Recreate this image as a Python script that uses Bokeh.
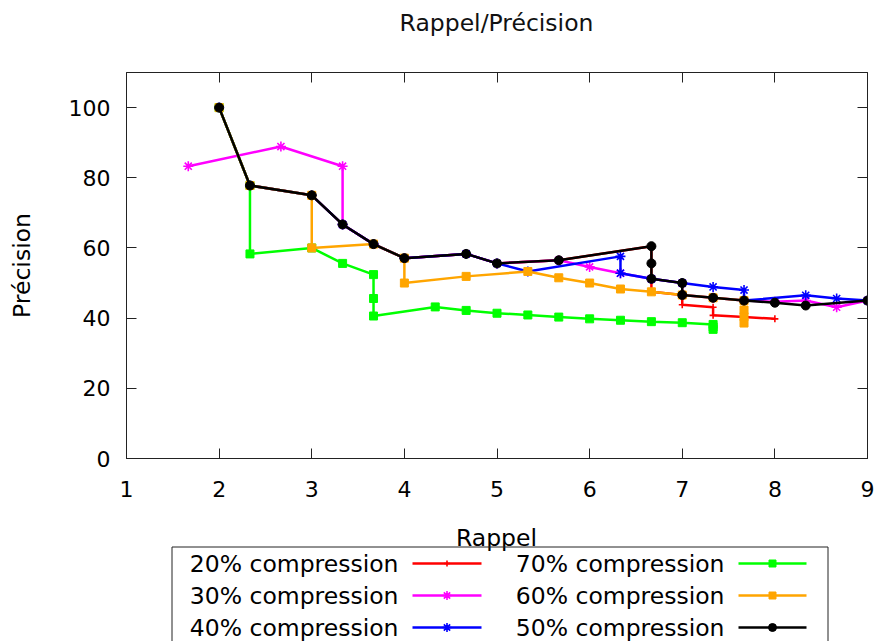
from bokeh.plotting import figure
from bokeh.layouts import column
from bokeh.models import LinearAxis, Range1d, FixedTicker
from bokeh.embed import file_html
from bokeh.resources import INLINE
from bokeh.core.properties import value

FONT = "DejaVu Sans"
TEXT_SIZE = "23.5px"
TICK_SIZE = "22px"

# Recall (Rappel) / precision (Précision) curves per compression rate
rappel_20 = [2, 2.333, 3, 3.333, 3.667, 4, 4.667, 5, 5.667, 6.667, 6.667, 6.667, 6.667, 7, 7, 7.333, 7.333, 7.667, 8]
precision_20 = [100, 77.8, 75, 66.7, 61.1, 57.1, 58.3, 55.6, 56.5, 60.5, 55.6, 51.2, 47.5, 46.6, 43.8, 43.1, 40.8, 40.3, 39.8]

rappel_30 = [1.667, 2.667, 3.333, 3.333, 3.667, 4, 4.667, 5, 5.667, 6, 6.333, 6.667, 7, 7, 7.333, 7.667, 8, 8.333, 8.667, 9]
precision_30 = [83.3, 88.9, 83.3, 66.7, 61.1, 57.1, 58.3, 55.6, 56.5, 54.6, 52.8, 51.2, 50, 46.6, 45.8, 45, 44.7, 45.0, 43.1, 45]

rappel_40 = [2, 2.333, 3, 3.333, 3.667, 4, 4.667, 5, 5.333, 6.333, 6.333, 6.667, 7, 7.333, 7.667, 7.667, 8.333, 8.667, 9]
precision_40 = [100, 77.8, 75, 66.7, 61.1, 57.1, 58.3, 55.6, 53.3, 57.6, 52.8, 51.2, 50, 48.9, 48, 45, 46.5, 45.6, 45]

rappel_70 = [2, 2.333, 2.333, 3, 3.333, 3.667, 3.667, 3.667, 4.333, 4.667, 5, 5.333, 5.667, 6, 6.333, 6.667, 7, 7.333, 7.333, 7.333]
precision_70 = [100, 77.8, 58.3, 60, 55.6, 52.4, 45.6, 40.6, 43.2, 42.2, 41.4, 40.9, 40.3, 39.8, 39.4, 39.0, 38.7, 38.2, 37.5, 36.8]

rappel_60 = [2, 2.333, 3, 3, 3.667, 4, 4, 4.667, 5.333, 5.667, 6, 6.333, 6.667, 7, 7.333, 7.667, 7.667, 7.667, 7.667]
precision_60 = [100, 77.8, 75, 60, 61.1, 57.1, 50, 51.9, 53.3, 51.5, 50, 48.3, 47.5, 46.6, 45.8, 45, 42.3, 40.4, 38.6]

rappel_50 = [2, 2.333, 3, 3.333, 3.667, 4, 4.667, 5, 5.667, 6.667, 6.667, 6.667, 7, 7, 7.333, 7.667, 8, 8.333, 9]
precision_50 = [100, 77.8, 75, 66.7, 61.1, 57.1, 58.3, 55.6, 56.5, 60.5, 55.6, 51.2, 50, 46.6, 45.8, 45, 44.4, 43.6, 45]

x_ticks = [1, 2, 3, 4, 5, 6, 7, 8, 9]
y_ticks = [0, 20, 40, 60, 80, 100]

# name, x, y, colour, marker, marker size  (drawing order: last on top)
series = [
    ("20% compression", rappel_20, precision_20, "#ff0000", "cross", 7),
    ("30% compression", rappel_30, precision_30, "#ff00ff", "asterisk", 10),
    ("40% compression", rappel_40, precision_40, "#0000ff", "asterisk", 10),
    ("70% compression", rappel_70, precision_70, "#00ff00", "square", 8),
    ("60% compression", rappel_60, precision_60, "#ffa500", "square", 8),
    ("50% compression", rappel_50, precision_50, "#000000", "circle", 9),
]


def strip(height, y_top, y_bottom):
    """A bare figure whose ranges are page pixels, aligned with the chart frame."""
    s = figure(width=879, height=height, x_range=Range1d(126, 867), y_range=Range1d(y_bottom, y_top),
               output_backend="svg", toolbar_location=None,
               min_border_left=126, min_border_right=12, min_border_top=0, min_border_bottom=0,
               x_axis_type=None, y_axis_type=None)
    s.xgrid.visible = False
    s.ygrid.visible = False
    s.outline_line_color = None
    s.background_fill_color = "white"
    s.border_fill_color = "white"
    return s


def draw_markers(fig, xs, ys, color, marker, size):
    if marker in ("cross", "asterisk"):
        fig.scatter(xs, ys, marker=marker, size=size, line_color=color, line_width=1.6)
    else:
        fig.scatter(xs, ys, marker=marker, size=size, fill_color=color, line_color=color)


# Title strip
head = strip(44, 0, 44)
head.text(x=[496], y=[22], text=["Rappel/Précision"], text_font=value(FONT), text_font_size=TEXT_SIZE,
          text_align="center", text_baseline="middle", text_color="#111111")

# Main chart
p = figure(width=879, height=466, x_range=Range1d(1, 9), y_range=Range1d(0, 110),
           output_backend="svg", toolbar_location=None,
           min_border_left=126, min_border_right=12, min_border_top=28, min_border_bottom=52)
p.xgrid.visible = False
p.ygrid.visible = False
p.outline_line_color = "#222222"
p.outline_line_width = 1
p.background_fill_color = "white"
p.border_fill_color = "white"


def style_axis(ax, ticks, show_labels):
    ax.ticker = FixedTicker(ticks=ticks)
    ax.major_tick_in = 10
    ax.major_tick_out = 0
    ax.minor_tick_line_color = None
    ax.major_tick_line_color = "#222222"
    ax.axis_line_color = "#222222"
    ax.major_label_text_font = FONT
    ax.major_label_text_color = "black"
    if show_labels:
        ax.major_label_text_font_size = TICK_SIZE
    else:
        ax.major_label_text_font_size = "0px"
        ax.major_label_standoff = 0


style_axis(p.xaxis[0], x_ticks, True)
p.xaxis[0].major_label_standoff = 22
style_axis(p.yaxis[0], y_ticks, True)
p.yaxis[0].major_label_standoff = 16
p.yaxis[0].axis_label = "Précision"
p.yaxis[0].axis_label_text_font = FONT
p.yaxis[0].axis_label_text_font_size = TEXT_SIZE
p.yaxis[0].axis_label_text_font_style = "normal"
p.yaxis[0].axis_label_text_color = "black"
p.yaxis[0].axis_label_standoff = 30

top_axis = LinearAxis()
style_axis(top_axis, x_ticks[1:-1], False)
p.add_layout(top_axis, "above")
right_axis = LinearAxis()
style_axis(right_axis, y_ticks, False)
p.add_layout(right_axis, "right")

for name, xs, ys, color, marker, size in series:
    p.line(xs, ys, line_color=color, line_width=2.5)
    draw_markers(p, xs, ys, color, marker, size)

# Key strip below the chart: x-axis title and a boxed two-column key
leg = strip(131, 510, 641)
leg.text(x=[496], y=[537], text=["Rappel"], text_font=value(FONT), text_font_size=TEXT_SIZE,
         text_align="center", text_baseline="middle", text_color="black")
leg.line([171.5, 171.5, 827.5, 827.5], [660, 546.5, 546.5, 660], line_color="#222222", line_width=1)

key_order = [0, 1, 2, 3, 4, 5]
row_y = [563, 595, 627]
col_text_x = [398, 724]
col_line_x = [(412, 481), (738, 806)]
for k, idx in enumerate(key_order):
    name, xs, ys, color, marker, size = series[idx]
    col, row = divmod(k, 3)
    y = row_y[row]
    leg.text(x=[col_text_x[col]], y=[y], text=[name], text_font=value(FONT), text_font_size=TEXT_SIZE,
             text_align="right", text_baseline="middle", text_color="black")
    x0, x1 = col_line_x[col]
    leg.segment(x0=[x0], y0=[y], x1=[x1], y1=[y], line_color=color, line_width=2.5)
    draw_markers(leg, [(x0 + x1) / 2], [y], color, marker, size - 1)

layout = column(head, p, leg, spacing=0)
open("out.html", "w").write(file_html(layout, INLINE))
